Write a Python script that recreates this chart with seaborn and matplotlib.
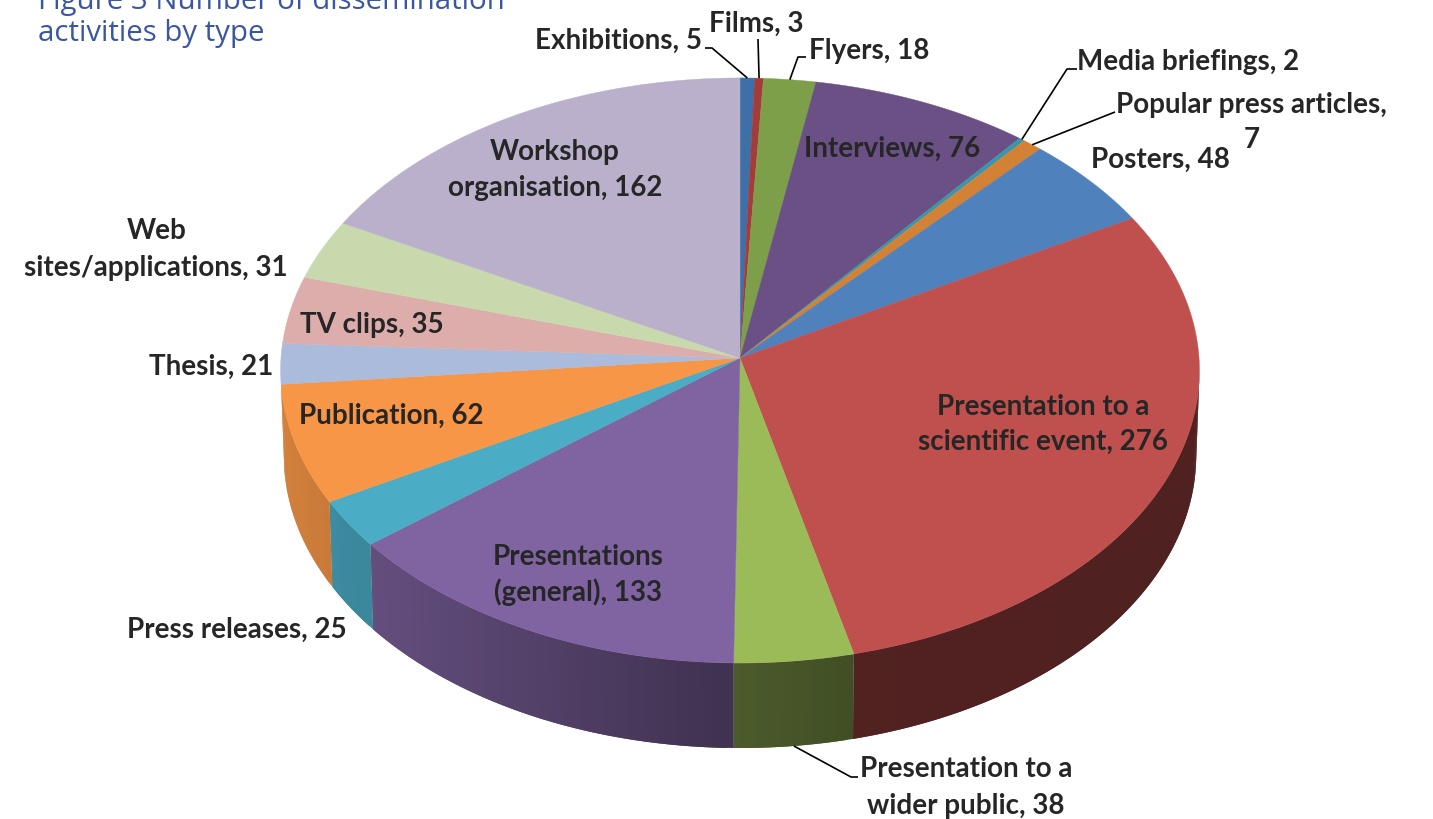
import numpy as np
import pandas as pd
import matplotlib
matplotlib.use("Agg")
import matplotlib.pyplot as plt
import seaborn as sns

# slices in clockwise order, starting at 12 o'clock
categories = ["Exhibitions", "Films", "Flyers", "Interviews", "Media briefings",
              "Popular press articles", "Posters", "Presentation to a scientific event",
              "Presentation to a wider public", "Presentations (general)", "Press releases",
              "Publication", "Thesis", "TV clips", "Web sites/applications",
              "Workshop organisation"]
values = [5, 3, 18, 76, 2, 7, 48, 276, 38, 133, 25, 62, 21, 35, 31, 162]
top_colors = ["#3E6FA6", "#A33C3A", "#7E9F4A", "#6A5084", "#3A96AB", "#D38235",
              "#4F81BD", "#C0504D", "#9BBB59", "#8064A2", "#4BACC6", "#F79646",
              "#AABBDB", "#DDADAB", "#C9D9AE", "#BAB0CB"]
title_lines = ["Figure 3 Number of dissemination", "activities by type"]

sns.set_theme(style="white")
plt.rcParams["font.family"] = ["Lato", "DejaVu Sans"]

df = pd.DataFrame({"category": categories, "value": values})
df["color"] = sns.color_palette(top_colors)
df["end"] = df["value"].cumsum() / df["value"].sum() * 2 * np.pi
df["start"] = df["end"] - df["value"] / df["value"].sum() * 2 * np.pi
df["mid"] = (df["start"] + df["end"]) / 2

# perspective of the tilted disc, in pixels
CX, CY = 740, 359
RX, RY, PERSP = 459, 292, 0.0427
DEPTH = 85
BOTTOM_SCALE = 0.993


def top_rim(t):
    w = 1 + PERSP * np.cos(t)
    return CX + RX * np.sin(t) / w, CY - RY * np.cos(t) / w


def bottom_rim(t):
    x, y = top_rim(t)
    return CX + (x - CX) * BOTTOM_SCALE, y + DEPTH


def wall_shade(x):
    # the side gets darker from left to right
    return np.interp(x, [285, 370, 735, 855, 1199], [0.85, 0.78, 0.49, 0.42, 0.41])


fig = plt.figure(figsize=(14.33, 8.2), dpi=100)
ax = fig.add_axes([0, 0, 1, 1])
ax.set_xlim(0, 1433)
ax.set_ylim(820, 0)
ax.axis("off")

# side wall, only the front half can be seen
for _, row in df.iterrows():
    if np.cos(row["mid"]) > -0.04:
        continue
    ts = np.linspace(row["start"], row["end"], max(2, int(row["value"] / 2) + 2))
    # draw from the far end back, each strip overlaps the next so no seams show
    for t0, t1 in zip(ts[:-1][::-1], ts[1:][::-1]):
        if np.cos(t0) > -0.04:
            continue
        far = min(t1 + (t1 - t0), row["end"])
        x0, y0 = top_rim(t0)
        x1, y1 = top_rim(far)
        x2, y2 = bottom_rim(far)
        x3, y3 = bottom_rim(t0)
        shade = wall_shade((x0 + x1) / 2)
        c = tuple(np.array(row["color"]) * shade)
        ax.fill([x0, x1, x2, x3], [y0, y1, y2, y3], color=c, lw=0, zorder=1)

# top of the pie
for _, row in df.iterrows():
    ts = np.linspace(row["start"], row["end"], int(row["value"]) + 8)
    xs, ys = top_rim(ts)
    ax.fill(np.r_[CX, xs], np.r_[CY, ys], color=row["color"], lw=0.3, zorder=2)

txt = dict(fontsize=20, fontweight="bold", color="#262626", zorder=5, va="center")

ax.text(702, 41, "Exhibitions, 5", ha="right", **txt)
ax.text(756, 24, "Films, 3", ha="center", **txt)
ax.text(809, 51, "Flyers, 18", ha="left", **txt)
ax.text(1077, 62, "Media briefings, 2", ha="left", **txt)
ax.text(1116, 105, "Popular press articles,", ha="left", **txt)
ax.text(1252, 140, "7", ha="center", **txt)
ax.text(804, 149, "Interviews, 76", ha="left", **txt)
ax.text(1091, 160, "Posters, 48", ha="left", **txt)
ax.text(555, 152, "Workshop", ha="center", **txt)
ax.text(555, 188, "organisation, 162", ha="center", **txt)
ax.text(157, 231, "Web", ha="center", **txt)
ax.text(156, 268, "sites/applications, 31", ha="center", **txt)
ax.text(300, 325, "TV clips, 35", ha="left", **txt)
ax.text(273, 367, "Thesis, 21", ha="right", **txt)
ax.text(299, 416, "Publication, 62", ha="left", **txt)
ax.text(347, 630, "Press releases, 25", ha="right", **txt)
ax.text(578, 557, "Presentations", ha="center", **txt)
ax.text(578, 592, "(general), 133", ha="center", **txt)
ax.text(1043, 407, "Presentation to a", ha="center", **txt)
ax.text(1043, 442, "scientific event, 276", ha="center", **txt)
ax.text(966, 769, "Presentation to a", ha="center", **txt)
ax.text(966, 806, "wider public, 38", ha="center", **txt)

# leader lines, elbow points are layout, the rim end comes from the slice
leaders = {"Exhibitions": [(705, 49), (712, 49)],
           "Films": [(758, 40)],
           "Flyers": [(806, 58), (798, 58)],
           "Media briefings": [(1077, 70), (1067, 70)],
           "Popular press articles": [(1115, 113)],
           "Presentation to a wider public": [(858, 778), (851, 778)]}
for name, pts in leaders.items():
    mid = df.loc[df["category"] == name, "mid"].iloc[0]
    if np.cos(mid) < 0:
        end = bottom_rim(mid)
    else:
        end = top_rim(mid)
    xs = [p[0] for p in pts] + [end[0]]
    ys = [p[1] for p in pts] + [end[1]]
    ax.plot(xs, ys, color="black", lw=1.2, zorder=4, solid_capstyle="butt")

# the title is cut by the top of the page in the source
ax.text(38, 9, title_lines[0], fontsize=21.2, color="#3A55A4", ha="left", va="baseline",
        family="Open Sans", clip_on=False)
ax.text(38, 41, title_lines[1], fontsize=21.2, color="#3A55A4", ha="left", va="baseline",
        family="Open Sans", clip_on=False)

fig.savefig("out.png", dpi=100, facecolor="white")
